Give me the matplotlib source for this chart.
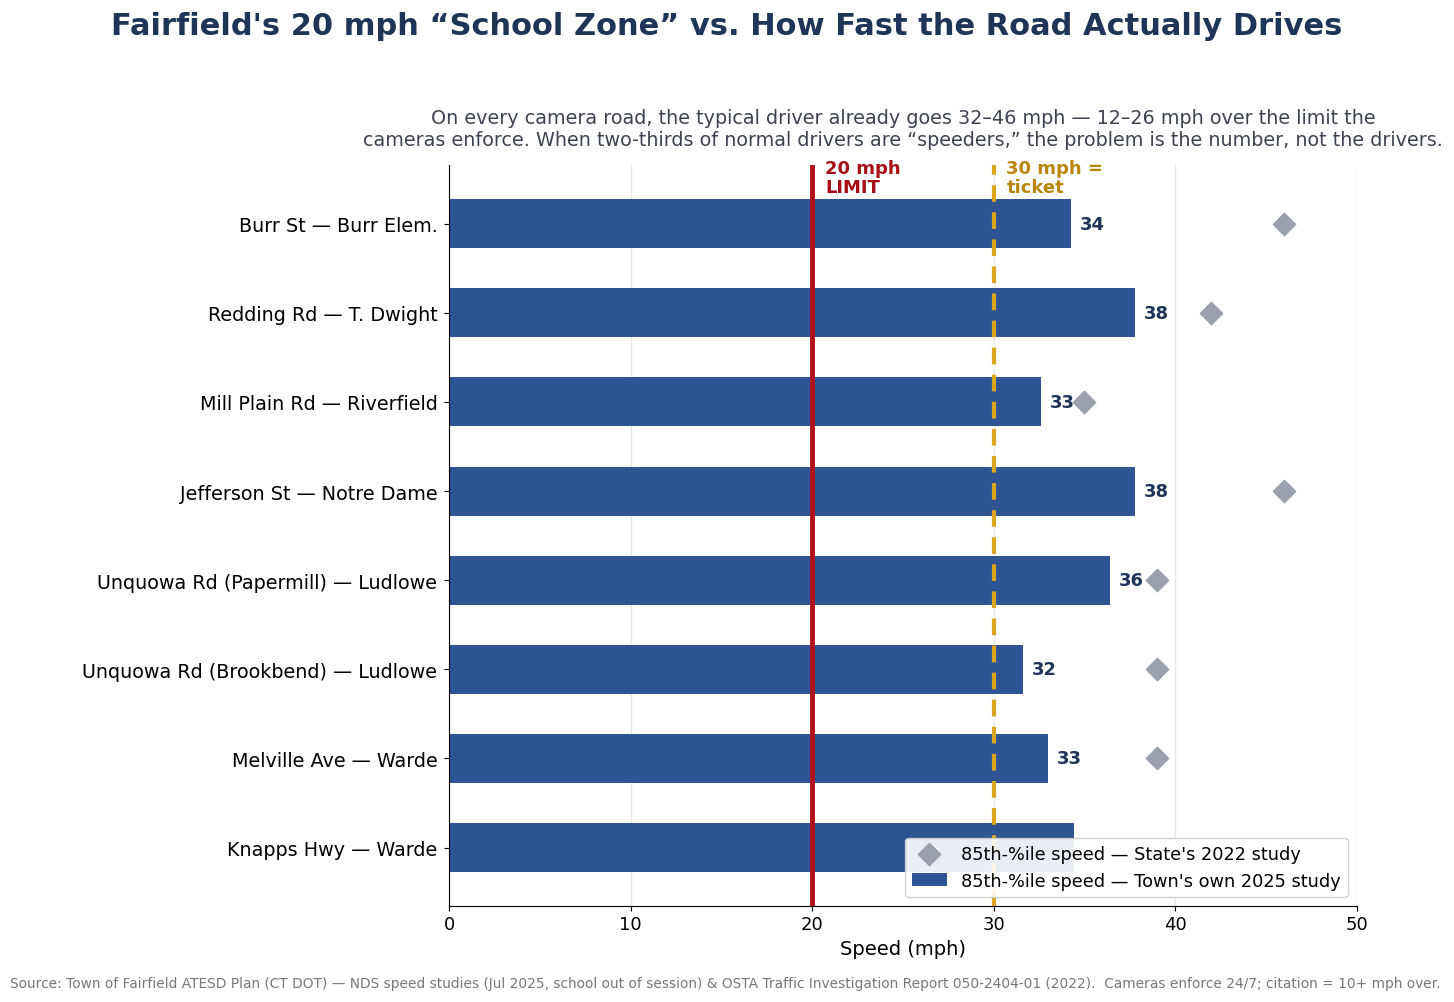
import numpy as np
import matplotlib
matplotlib.use("Agg")
from matplotlib import pyplot as plt

roads = [
    "Burr St — Burr Elem.",
    "Redding Rd — T. Dwight",
    "Mill Plain Rd — Riverfield",
    "Jefferson St — Notre Dame",
    "Unquowa Rd (Papermill) — Ludlowe",
    "Unquowa Rd (Brookbend) — Ludlowe",
    "Melville Ave — Warde",
    "Knapps Hwy — Warde",
]
town_2025 = [34.25, 37.8, 32.6, 37.8, 36.4, 31.6, 33.0, 34.4]
state_2022 = [46, 42, 35, 46, 39, 39, 39, np.nan]

limit_mph = 20
ticket_mph = 30

navy = "#1f3558"
bar_blue = "#2e5494"

fig, ax = plt.subplots(figsize=(14.54, 10.03), dpi=100)
fig.subplots_adjust(left=0.309, right=0.933, bottom=0.096, top=0.834)

y = np.arange(len(roads))
ax.barh(y, town_2025, height=0.55, color=bar_blue, zorder=2,
        label="85th-%ile speed — Town's own 2025 study")
ax.scatter(state_2022, y, marker="D", s=130, color="#9ba1ac", zorder=4,
           label="85th-%ile speed — State's 2022 study")

# value labels (last one sits under the legend in the original)
for yi, v in zip(y, town_2025):
    if yi == len(roads) - 1:
        continue
    ax.text(v + 0.5, yi, f"{v:.0f}", va="center", ha="left",
            fontsize=13, fontweight="bold", color=navy, zorder=3)

ax.axvline(limit_mph, color="#b01018", lw=3.5, zorder=3)
ax.axvline(ticket_mph, color="#dba520", lw=3, ls=(0, (4, 2.5)), zorder=3)
ax.text(limit_mph + 0.7, -0.73, "20 mph\nLIMIT", color="#a50f15",
        fontsize=13, fontweight="bold", va="top", ha="left", linespacing=1.08)
ax.text(ticket_mph + 0.7, -0.73, "30 mph =\nticket", color="#b8860b",
        fontsize=13, fontweight="bold", va="top", ha="left", linespacing=1.08)

ax.set_yticks(y)
ax.set_yticklabels(roads, fontsize=13.75)
ax.tick_params(axis="y", pad=5)
ax.invert_yaxis()
ax.set_xlim(0, 50)
ax.set_xticks([0, 10, 20, 30, 40, 50])
ax.tick_params(axis="x", labelsize=13)
ax.set_xlabel("Speed (mph)", fontsize=14)
ax.grid(axis="x", color="#e6e6e6", lw=1, zorder=0)
ax.set_axisbelow(True)
for s in ("top", "right"):
    ax.spines[s].set_visible(False)

ax.legend(loc="lower right", fontsize=12.75, framealpha=0.9,
          handlelength=1.95, borderpad=0.4)

fig.suptitle("Fairfield's 20 mph \u201cSchool Zone\u201d vs. How Fast the Road Actually Drives",
             fontsize=22, fontweight="bold", color=navy, y=0.988)
ax.set_title("On every camera road, the typical driver already goes 32\u201346 mph \u2014 12\u201326 mph over the limit the\n"
             "cameras enforce. When two-thirds of normal drivers are \u201cspeeders,\u201d the problem is the number, not the drivers.",
             fontsize=13.75, color="#3d4350", pad=15)
fig.text(0.007, 0.012,
         "Source: Town of Fairfield ATESD Plan (CT DOT) \u2014 NDS speed studies (Jul 2025, school out of session) & OSTA Traffic Investigation Report 050-2404-01 (2022).  Cameras enforce 24/7; citation = 10+ mph over.",
         fontsize=9.95, color="#777777", ha="left", va="bottom")

fig.savefig("out.png", dpi=100)
